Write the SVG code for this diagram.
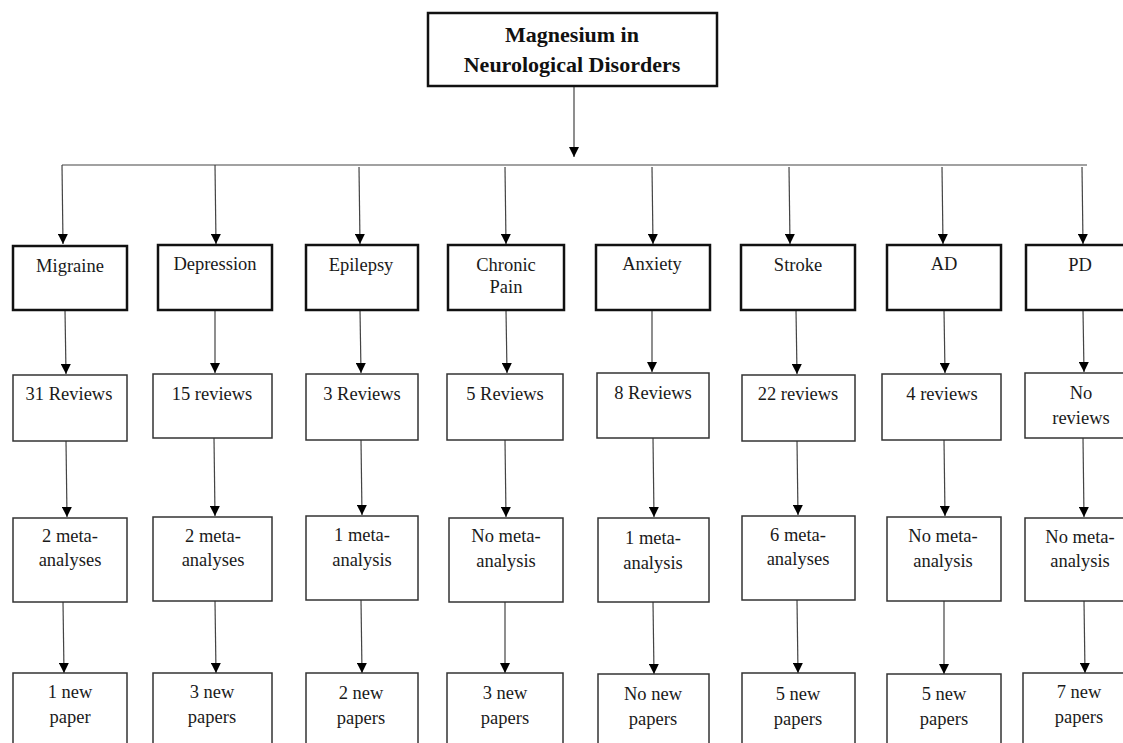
<svg xmlns="http://www.w3.org/2000/svg" width="1123" height="743" viewBox="0 0 1123 743">
<style>
.t{font-family:"Liberation Serif","Times New Roman",serif;font-size:18.5px;fill:#1a1a1a;text-anchor:middle}
.h{font-family:"Liberation Serif","Times New Roman",serif;font-size:22px;font-weight:bold;fill:#111;text-anchor:middle}
.b1{fill:#fff;stroke:#111;stroke-width:2.5}
.b2{fill:#fff;stroke:#333;stroke-width:1.5}
.c{stroke:#444;stroke-width:1.2;fill:none}
</style>
<defs>
<marker id="ah" viewBox="0 0 10 10" refX="10" refY="5" markerWidth="10" markerHeight="10" markerUnits="userSpaceOnUse" orient="auto">
<path d="M0,0 L10,5 L0,10 Z" fill="#000"/>
</marker>
</defs>
<rect width="1123" height="743" fill="#fff"/>
<g id="connectors">
<line class="c" x1="574" y1="86" x2="574" y2="157" marker-end="url(#ah)"/>
<line class="c" x1="62" y1="165" x2="1087" y2="165"/>
<line class="c" x1="62" y1="165" x2="63" y2="244" marker-end="url(#ah)"/>
<line class="c" x1="215" y1="165" x2="216" y2="244" marker-end="url(#ah)"/>
<line class="c" x1="359" y1="167" x2="360" y2="244" marker-end="url(#ah)"/>
<line class="c" x1="505" y1="167" x2="506" y2="244" marker-end="url(#ah)"/>
<line class="c" x1="652" y1="167" x2="653" y2="244" marker-end="url(#ah)"/>
<line class="c" x1="789" y1="167" x2="790" y2="244" marker-end="url(#ah)"/>
<line class="c" x1="942" y1="167" x2="943" y2="244" marker-end="url(#ah)"/>
<line class="c" x1="1082" y1="167" x2="1083" y2="244" marker-end="url(#ah)"/>
<line class="c" x1="65" y1="310" x2="66" y2="374" marker-end="url(#ah)"/>
<line class="c" x1="215" y1="310" x2="215" y2="373" marker-end="url(#ah)"/>
<line class="c" x1="360" y1="310" x2="361" y2="373" marker-end="url(#ah)"/>
<line class="c" x1="506" y1="310" x2="507" y2="373" marker-end="url(#ah)"/>
<line class="c" x1="652" y1="310" x2="652" y2="372" marker-end="url(#ah)"/>
<line class="c" x1="796" y1="310" x2="797" y2="374" marker-end="url(#ah)"/>
<line class="c" x1="944" y1="310" x2="945" y2="373" marker-end="url(#ah)"/>
<line class="c" x1="1083" y1="310" x2="1084" y2="372" marker-end="url(#ah)"/>
<line class="c" x1="66" y1="441" x2="67" y2="517" marker-end="url(#ah)"/>
<line class="c" x1="214" y1="438" x2="215" y2="516" marker-end="url(#ah)"/>
<line class="c" x1="361" y1="440" x2="362" y2="515" marker-end="url(#ah)"/>
<line class="c" x1="505" y1="440" x2="506" y2="517" marker-end="url(#ah)"/>
<line class="c" x1="653" y1="438" x2="654" y2="517" marker-end="url(#ah)"/>
<line class="c" x1="797" y1="441" x2="798" y2="515" marker-end="url(#ah)"/>
<line class="c" x1="944" y1="440" x2="945" y2="516" marker-end="url(#ah)"/>
<line class="c" x1="1083" y1="438" x2="1084" y2="517" marker-end="url(#ah)"/>
<line class="c" x1="63" y1="602" x2="64" y2="673" marker-end="url(#ah)"/>
<line class="c" x1="215" y1="601" x2="216" y2="673" marker-end="url(#ah)"/>
<line class="c" x1="361" y1="600" x2="362" y2="673" marker-end="url(#ah)"/>
<line class="c" x1="505" y1="602" x2="505" y2="673" marker-end="url(#ah)"/>
<line class="c" x1="653" y1="602" x2="654" y2="674" marker-end="url(#ah)"/>
<line class="c" x1="797" y1="600" x2="798" y2="673" marker-end="url(#ah)"/>
<line class="c" x1="944" y1="601" x2="944" y2="674" marker-end="url(#ah)"/>
<line class="c" x1="1084" y1="601" x2="1085" y2="673" marker-end="url(#ah)"/>
</g>
<g id="title">
<rect class="b1" x="428" y="13" width="289" height="73"/>
<text class="h" x="572" y="42">Magnesium in</text>
<text class="h" x="572" y="72">Neurological Disorders</text>
</g>
<g id="migraine"><rect class="b1" x="13" y="246" width="114" height="64"/><text class="t" x="70" y="272">Migraine</text></g>
<g id="depression"><rect class="b1" x="158" y="245" width="114" height="65"/><text class="t" x="215" y="270">Depression</text></g>
<g id="epilepsy"><rect class="b1" x="306" y="245" width="112" height="65"/><text class="t" x="361" y="271">Epilepsy</text></g>
<g id="chronic-pain"><rect class="b1" x="448" y="245" width="116" height="65"/><text class="t" x="506" y="271">Chronic</text><text class="t" x="506" y="293">Pain</text></g>
<g id="anxiety"><rect class="b1" x="596" y="245" width="114" height="65"/><text class="t" x="652" y="270">Anxiety</text></g>
<g id="stroke"><rect class="b1" x="741" y="245" width="114" height="65"/><text class="t" x="798" y="271">Stroke</text></g>
<g id="ad"><rect class="b1" x="887" y="245" width="114" height="65"/><text class="t" x="944" y="270">AD</text></g>
<g id="pd"><rect class="b1" x="1026" y="245" width="110" height="65"/><text class="t" x="1080" y="271">PD</text></g>

<g id="migraine-reviews"><rect class="b2" x="13" y="375" width="114" height="66"/><text class="t" x="69" y="400">31 Reviews</text></g>
<g id="depression-reviews"><rect class="b2" x="153" y="374" width="119" height="64"/><text class="t" x="212" y="400">15 reviews</text></g>
<g id="epilepsy-reviews"><rect class="b2" x="306" y="374" width="112" height="66"/><text class="t" x="362" y="400">3 Reviews</text></g>
<g id="chronic-reviews"><rect class="b2" x="447" y="374" width="116" height="66"/><text class="t" x="505" y="400">5 Reviews</text></g>
<g id="anxiety-reviews"><rect class="b2" x="597" y="373" width="112" height="65"/><text class="t" x="653" y="399">8 Reviews</text></g>
<g id="stroke-reviews"><rect class="b2" x="742" y="375" width="113" height="66"/><text class="t" x="798" y="400">22 reviews</text></g>
<g id="ad-reviews"><rect class="b2" x="882" y="374" width="119" height="66"/><text class="t" x="942" y="400">4 reviews</text></g>
<g id="pd-reviews"><rect class="b2" x="1025" y="373" width="110" height="65"/><text class="t" x="1081" y="399">No</text><text class="t" x="1081" y="424">reviews</text></g>

<g id="migraine-meta"><rect class="b2" x="13" y="518" width="114" height="84"/><text class="t" x="70" y="542">2 meta-</text><text class="t" x="70" y="566">analyses</text></g>
<g id="depression-meta"><rect class="b2" x="153" y="517" width="119" height="84"/><text class="t" x="213" y="542">2 meta-</text><text class="t" x="213" y="566">analyses</text></g>
<g id="epilepsy-meta"><rect class="b2" x="306" y="516" width="112" height="84"/><text class="t" x="362" y="541">1 meta-</text><text class="t" x="362" y="566">analysis</text></g>
<g id="chronic-meta"><rect class="b2" x="449" y="518" width="114" height="84"/><text class="t" x="506" y="542">No meta-</text><text class="t" x="506" y="567">analysis</text></g>
<g id="anxiety-meta"><rect class="b2" x="598" y="518" width="111" height="84"/><text class="t" x="653" y="544">1 meta-</text><text class="t" x="653" y="569">analysis</text></g>
<g id="stroke-meta"><rect class="b2" x="742" y="516" width="113" height="84"/><text class="t" x="798" y="541">6 meta-</text><text class="t" x="798" y="565">analyses</text></g>
<g id="ad-meta"><rect class="b2" x="887" y="517" width="114" height="84"/><text class="t" x="943" y="542">No meta-</text><text class="t" x="943" y="567">analysis</text></g>
<g id="pd-meta"><rect class="b2" x="1025" y="518" width="110" height="83"/><text class="t" x="1080" y="543">No meta-</text><text class="t" x="1080" y="567">analysis</text></g>

<g id="migraine-new"><rect class="b2" x="13" y="673" width="114" height="90"/><text class="t" x="70" y="698">1 new</text><text class="t" x="70" y="723">paper</text></g>
<g id="depression-new"><rect class="b2" x="153" y="673" width="119" height="90"/><text class="t" x="212" y="698">3 new</text><text class="t" x="212" y="723">papers</text></g>
<g id="epilepsy-new"><rect class="b2" x="306" y="673" width="112" height="90"/><text class="t" x="361" y="699">2 new</text><text class="t" x="361" y="724">papers</text></g>
<g id="chronic-new"><rect class="b2" x="447" y="673" width="116" height="90"/><text class="t" x="505" y="699">3 new</text><text class="t" x="505" y="724">papers</text></g>
<g id="anxiety-new"><rect class="b2" x="598" y="674" width="111" height="90"/><text class="t" x="653" y="700">No new</text><text class="t" x="653" y="725">papers</text></g>
<g id="stroke-new"><rect class="b2" x="742" y="673" width="113" height="90"/><text class="t" x="798" y="700">5 new</text><text class="t" x="798" y="725">papers</text></g>
<g id="ad-new"><rect class="b2" x="887" y="674" width="114" height="90"/><text class="t" x="944" y="700">5 new</text><text class="t" x="944" y="725">papers</text></g>
<g id="pd-new"><rect class="b2" x="1023" y="673" width="112" height="90"/><text class="t" x="1079" y="698">7 new</text><text class="t" x="1079" y="723">papers</text></g>
</svg>
